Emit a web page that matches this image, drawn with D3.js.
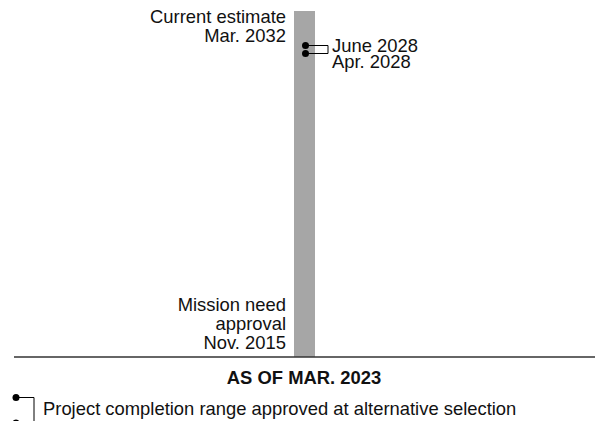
<!DOCTYPE html>
<html><head><meta charset="utf-8">
<script src="https://cdn.jsdelivr.net/npm/d3@7"></script>
<style>body{margin:0;background:#fff}svg{display:block;font-family:"Liberation Sans",Arial,sans-serif}</style>
</head><body><svg id="c" width="595" height="421"></svg>
<script>
// Data
const startDate = new Date(2015, 10, 1);   // Nov. 2015 mission need approval
const currentEstimate = new Date(2032, 2, 1); // Mar. 2032
const altSelectionRange = [new Date(2028, 3, 1), new Date(2028, 5, 1)]; // Apr. 2028 – June 2028
const startLabel = ["Mission need", "approval", "Nov. 2015"];
const endLabel = ["Current estimate", "Mar. 2032"];
const rangeLabels = ["June 2028", "Apr. 2028"];
const asOfLabel = "AS OF MAR. 2023";
const legendLabel = "Project completion range approved at alternative selection";

const svg = d3.select("#c");
const baseY = 357, topY = 11;
const y = d3.scaleTime()
  .domain([startDate, altSelectionRange[0], altSelectionRange[1], currentEstimate])
  .range([baseY, 53.5, 45.5, topY]);
const barX = 294, barW = 21, cx = barX + barW / 2 + 1;

// bar
svg.append("rect").attr("x", barX).attr("width", barW)
  .attr("y", y(currentEstimate)).attr("height", y(startDate) - y(currentEstimate))
  .attr("fill", "#a6a6a6");

// baseline
svg.append("line").attr("x1", 14).attr("x2", 595).attr("y1", baseY).attr("y2", baseY)
  .attr("stroke", "#333").attr("stroke-width", 1.5);

// range bracket
const bx = 328;
const yr = altSelectionRange.map(d => y(d));
svg.append("path")
  .attr("d", `M${cx},${yr[1]}H${bx}V${yr[0]}H${cx}`)
  .attr("fill", "none").attr("stroke", "#000").attr("stroke-width", 1);
svg.selectAll("circle.r").data(altSelectionRange).join("circle")
  .attr("class", "r").attr("cx", cx).attr("cy", d => y(d)).attr("r", 3.5).attr("fill", "#000");

const fs = 18.4;
// range labels
svg.selectAll("text.rl").data(rangeLabels).join("text").attr("class", "rl")
  .attr("x", 332).attr("y", (d, i) => 51.5 + i * 16.5)
  .attr("font-size", fs).attr("fill", "#111").text(d => d);

// end labels
svg.selectAll("text.el").data(endLabel).join("text").attr("class", "el")
  .attr("x", 286).attr("y", (d, i) => y(currentEstimate) + 12 + i * 19.3)
  .attr("text-anchor", "end").attr("font-size", fs).attr("fill", "#111").text(d => d);

// start labels
svg.selectAll("text.sl").data(startLabel).join("text").attr("class", "sl")
  .attr("x", 286).attr("y", (d, i) => y(startDate) - 8 - (startLabel.length - 1 - i) * 19.2)
  .attr("text-anchor", "end").attr("font-size", fs).attr("fill", "#111").text(d => d);

// as of
svg.append("text").attr("x", 304).attr("y", 384).attr("text-anchor", "middle")
  .attr("font-size", 18.4).attr("font-weight", "bold").attr("fill", "#111").text(asOfLabel);

// legend
svg.append("path").attr("d", "M16,397.5H34V425").attr("fill", "none").attr("stroke", "#000").attr("stroke-width", 1);
svg.append("circle").attr("cx", 16).attr("cy", 397.5).attr("r", 3.5).attr("fill", "#000");
svg.append("circle").attr("cx", 16).attr("cy", 423).attr("r", 3.5).attr("fill", "#000");
svg.append("text").attr("x", 43).attr("y", 415).attr("font-size", fs).attr("fill", "#111").text(legendLabel);
</script></body></html>
